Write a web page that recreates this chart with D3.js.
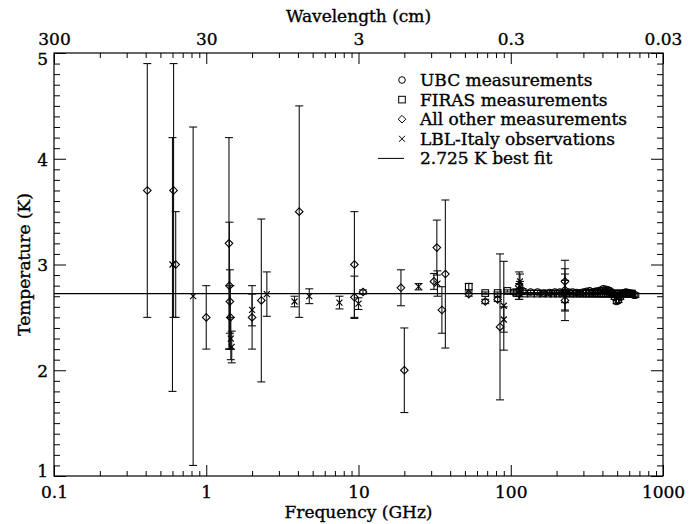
<!DOCTYPE html>
<html>
<head>
<meta charset="utf-8">
<script src="https://cdn.jsdelivr.net/npm/d3@7"></script>
<style>
  body { margin: 0; background: #fff; }
  svg text { font-family: "DejaVu Serif", "Liberation Serif", serif; fill: #000; stroke: #000; stroke-width: 0.35px; }
</style>
</head>
<body>
<div id="chart"></div>
<script>
// UBC rocket measurements (circles)
const ubcFreq = [105, 120, 135, 150, 165, 180, 195, 210, 225, 240, 255, 270, 285, 300, 315, 330, 345, 360, 375, 390,
    405, 420, 435, 450, 465, 480, 495, 510, 525, 540, 555, 570, 585, 600, 615, 630, 645, 660];
const ubcTemp = [2.74, 2.75, 2.74, 2.74, 2.73, 2.735, 2.74, 2.74, 2.735, 2.74, 2.74, 2.735, 2.73, 2.74, 2.745, 2.75, 2.74, 2.745, 2.75, 2.755,
    2.77, 2.765, 2.76, 2.75, 2.72, 2.69, 2.65, 2.66, 2.69, 2.72, 2.73, 2.74, 2.735, 2.73, 2.72, 2.72, 2.71, 2.71];
const ubcErr = [0.02, 0.02, 0.015, 0.015, 0.015, 0.015, 0.015, 0.015, 0.015, 0.015, 0.015, 0.015, 0.015, 0.015, 0.015, 0.015, 0.015, 0.015, 0.015, 0.015,
    0.015, 0.015, 0.015, 0.015, 0.02, 0.02, 0.02, 0.02, 0.02, 0.02, 0.02, 0.02, 0.02, 0.02, 0.02, 0.02, 0.02, 0.02];

// FIRAS measurements (squares)
const firasFreq = [53, 68, 82, 95, 109, 122, 136, 150, 163, 177, 190, 204, 218, 231, 245, 258, 272, 286, 299, 313, 326,
    340, 354, 367, 381, 394, 408, 422, 435, 449, 462, 476, 490, 503, 517, 530, 544, 558, 571, 585, 598, 612, 626];
const firasTemp = [2.79, 2.73, 2.73, 2.75, 2.73, 2.725, 2.725, 2.725, 2.725, 2.725, 2.725, 2.725, 2.725, 2.725, 2.725, 2.725, 2.725, 2.725, 2.725, 2.725, 2.725,
    2.725, 2.725, 2.725, 2.725, 2.725, 2.725, 2.725, 2.725, 2.725, 2.725, 2.725, 2.725, 2.725, 2.725, 2.725, 2.725, 2.725, 2.725, 2.725, 2.725, 2.725, 2.725];
const firasErr = [0.03, 0.01, 0.01, 0.01, 0.01, 0.01, 0.01, 0.01, 0.01, 0.01, 0.01, 0.01, 0.01, 0.01, 0.01, 0.01, 0.01, 0.01, 0.01, 0.01, 0.01,
    0.01, 0.01, 0.01, 0.01, 0.01, 0.01, 0.01, 0.01, 0.01, 0.01, 0.01, 0.01, 0.01, 0.01, 0.01, 0.01, 0.01, 0.01, 0.01, 0.01, 0.01, 0.01];

// All other measurements (diamonds)
const otherFreq = [0.41, 0.61, 0.63, 1.0, 1.41, 1.42, 1.43, 1.44, 2.0, 2.3, 4.08, 9.4, 9.4, 10.7, 19.0, 20.0,
    31.3, 32.7, 35.3, 37.2, 53.0, 68.0, 82.0, 85.0, 113.6, 113.6, 113.6, 227, 227, 227, 227];
const otherTemp = [3.7, 3.7, 3.0, 2.5, 3.2, 2.8, 2.65, 2.5, 2.5, 2.66, 3.5, 3.0, 2.69, 2.74, 2.78, 2.0,
    2.84, 3.16, 2.57, 2.91, 2.72, 2.65, 2.67, 2.41, 2.80, 2.76, 2.72, 2.84, 2.66, 2.76, 2.74];
const otherErr = [1.2, 1.2, 0.5, 0.3, 1.0, 0.6, 0.3, 0.3, 0.3, 0.77, 1.0, 0.5, 0.2, 0.02, 0.17, 0.4,
    0.075, 0.26, 0.22, 0.7, 0.02, 0.02, 0.02, 0.69, 0.13, 0.06, 0.05, 0.2, 0.19, 0.2, 0.17];

// LBL-Italy observations (crosses)
const lblFreq = [0.6, 0.82, 1.45, 1.47, 2.0, 2.5, 3.8, 4.75, 7.5, 10.0, 24.8, 33.0, 90.0, 90.0, 115, 115];
const lblTemp = [3.0, 2.7, 2.3, 2.22, 2.57, 2.72, 2.65, 2.70, 2.64, 2.63, 2.79, 2.82, 2.61, 2.48, 2.84, 2.79];
const lblErr = [1.2, 1.6, 0.2, 0.15, 0.15, 0.21, 0.05, 0.07, 0.06, 0.055, 0.03, 0.12, 0.42, 0.12, 0.07, 0.05];

const bestFit = 2.725;

const freqTicks = [0.1, 1, 10, 100, 1000];
const waveTicks = [300, 30, 3, 0.3, 0.03];
const tempTicks = [1, 2, 3, 4, 5];
const legendLabels = ["UBC measurements", "FIRAS measurements", "All other measurements",
    "LBL-Italy observations", "2.725 K best fit"];

const width = 693, height = 524;
const margin = { top: 53, right: 30, bottom: 48, left: 54 };
const plotW = width - margin.left - margin.right,
    plotH = height - margin.top - margin.bottom;

const x = d3.scaleLog().domain([0.1, 1000]).range([0, plotW]);
const wave = d3.scaleLog().domain([300, 0.03]).range([0, plotW]);
const y = d3.scaleLinear().domain([1, 5]).range([plotH, 0]);

const minorFreq = [];
for (let d = 0.1; d < 1000; d *= 10) {
    for (let k = 2; k <= 9; k++) minorFreq.push(d * k);
}
const minorTemp = d3.range(1, 5.001, 0.1).filter(t => Math.abs(t - Math.round(t)) > 0.01);
const minorWave = minorFreq.map(f => 30 / f);

const svg = d3.select('#chart').append('svg')
    .attr('width', width)
    .attr('height', height);

const g = svg.append('g')
    .attr('transform', `translate(${margin.left},${margin.top})`);

const fmt = d => String(+d.toPrecision(3));

function styleAxis(sel) {
    sel.select('.domain').remove();
    sel.selectAll('line').attr('stroke', '#000').attr('stroke-width', 1);
    sel.selectAll('text').style('font-size', '17px').style('font-family', '"DejaVu Serif", serif');
}

// bottom
g.append('g').attr('transform', `translate(0,${plotH})`)
    .call(d3.axisBottom(x).tickValues(freqTicks).tickSize(-11).tickPadding(10).tickFormat(fmt))
    .call(styleAxis);
g.append('g').attr('transform', `translate(0,${plotH})`)
    .call(d3.axisBottom(x).tickValues(minorFreq).tickSize(-5).tickFormat(''))
    .call(styleAxis);
// top
g.append('g')
    .call(d3.axisTop(wave).tickValues(waveTicks).tickSize(-11).tickPadding(8).tickFormat(fmt))
    .call(styleAxis);
g.append('g')
    .call(d3.axisTop(wave).tickValues(minorWave).tickSize(-5).tickFormat(''))
    .call(styleAxis);
// left: end labels are kept inside the frame height like the original
g.append('g')
    .call(d3.axisLeft(y).tickValues(tempTicks).tickSize(-12).tickPadding(6).tickFormat(d3.format('d')))
    .call(styleAxis)
    .selectAll('text')
    .attr('dy', d => d === 5 ? '0.66em' : d === 1 ? '0.03em' : '0.38em');
g.append('g')
    .call(d3.axisLeft(y).tickValues(minorTemp).tickSize(-6).tickFormat(''))
    .call(styleAxis);
// right
g.append('g').attr('transform', `translate(${plotW},0)`)
    .call(d3.axisRight(y).tickValues(tempTicks).tickSize(-12).tickFormat(''))
    .call(styleAxis);
g.append('g').attr('transform', `translate(${plotW},0)`)
    .call(d3.axisRight(y).tickValues(minorTemp).tickSize(-6).tickFormat(''))
    .call(styleAxis);

g.append('rect')
    .attr('width', plotW).attr('height', plotH)
    .attr('fill', 'none').attr('stroke', '#000').attr('stroke-width', 1.2);

// axis titles
svg.append('text')
    .attr('x', margin.left + plotW / 2).attr('y', 22)
    .attr('text-anchor', 'middle').style('font-size', '17px')
    .text('Wavelength (cm)');
svg.append('text')
    .attr('x', margin.left + plotW / 2).attr('y', 518)
    .attr('text-anchor', 'middle').style('font-size', '17px')
    .text('Frequency (GHz)');
svg.append('text')
    .attr('transform', `translate(30,${margin.top + plotH / 2}) rotate(-90)`)
    .attr('text-anchor', 'middle').style('font-size', '17px')
    .text('Temperature (K)');

// best fit line
g.append('line')
    .attr('x1', 0).attr('x2', plotW)
    .attr('y1', y(bestFit)).attr('y2', y(bestFit))
    .attr('stroke', '#000').attr('stroke-width', 1.2);

const zip = (f, t, e) => f.map((v, i) => ({ f: v, t: t[i], e: e[i] }));
const series = [
    { name: 'ubc', data: zip(ubcFreq, ubcTemp, ubcErr), shape: 'circle' },
    { name: 'firas', data: zip(firasFreq, firasTemp, firasErr), shape: 'square' },
    { name: 'other', data: zip(otherFreq, otherTemp, otherErr), shape: 'diamond' },
    { name: 'lbl', data: zip(lblFreq, lblTemp, lblErr), shape: 'cross' }
];

const capW = 4;
series.forEach(s => {
    const bars = g.append('g').attr('class', 'err-' + s.name)
        .attr('stroke', '#111').attr('stroke-width', 1.1);
    const bar = bars.selectAll('g').data(s.data).enter().append('g');
    bar.append('line')
        .attr('x1', d => x(d.f)).attr('x2', d => x(d.f))
        .attr('y1', d => y(d.t + d.e)).attr('y2', d => y(d.t - d.e));
    bar.append('line')
        .attr('x1', d => x(d.f) - capW).attr('x2', d => x(d.f) + capW)
        .attr('y1', d => y(d.t + d.e)).attr('y2', d => y(d.t + d.e));
    bar.append('line')
        .attr('x1', d => x(d.f) - capW).attr('x2', d => x(d.f) + capW)
        .attr('y1', d => y(d.t - d.e)).attr('y2', d => y(d.t - d.e));
});

function drawMarker(sel, shape) {
    if (shape === 'circle') {
        sel.append('circle').attr('r', 3.3);
    } else if (shape === 'square') {
        sel.append('rect').attr('x', -3.3).attr('y', -3.3).attr('width', 6.6).attr('height', 6.6);
    } else if (shape === 'diamond') {
        sel.append('path').attr('d', 'M0,-3.8L3.8,0L0,3.8L-3.8,0Z');
    } else if (shape === 'cross') {
        sel.append('path').attr('d', 'M-3,-3L3,3M-3,3L3,-3');
    } else if (shape === 'line') {
        sel.append('line').attr('x1', -24).attr('x2', 2).attr('y1', 0).attr('y2', 0);
    }
}

series.forEach(s => {
    const m = g.append('g').attr('class', 'pts-' + s.name)
        .attr('fill', 'none').attr('stroke', '#000').attr('stroke-width', 1.1);
    m.selectAll('g').data(s.data).enter().append('g')
        .attr('transform', d => `translate(${x(d.f)},${y(d.t)})`)
        .each(function () { drawMarker(d3.select(this), s.shape); });
});

// legend
const legendShapes = ['circle', 'square', 'diamond', 'cross', 'line'];
const legend = svg.append('g').attr('transform', 'translate(402,80)');
const item = legend.selectAll('g').data(legendLabels).enter().append('g')
    .attr('transform', (_, i) => `translate(0,${i * 19.6})`);
item.append('g')
    .attr('fill', 'none').attr('stroke', '#000').attr('stroke-width', 1)
    .each(function (_, i) { drawMarker(d3.select(this), legendShapes[i]); });
item.append('text')
    .attr('x', 18).attr('y', 6)
    .style('font-size', '17px')
    .text(d => d);
</script>
</body>
</html>
